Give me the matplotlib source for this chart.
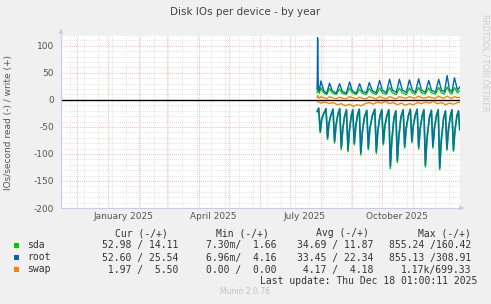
import matplotlib
matplotlib.use("Agg")
import matplotlib.pyplot as plt
from matplotlib.patches import Rectangle
from datetime import datetime, timedelta

# data begins end of July 2025, offsets in days
start = datetime(2025, 7, 28, 12)

# write side (+), sampled at peaks / troughs
w_days = [0, 0.4, 1, 2, 3.7, 6.5, 9.5, 12.3, 15, 19, 22.3, 25, 29, 32.3, 35, 39,
          42.3, 45, 49, 52, 55, 59, 62.3, 65, 69, 72.3, 75, 79, 82, 85, 89, 92,
          95, 98, 101.3, 104, 108, 111.3, 114, 118, 121.3, 124, 127, 129.7, 132,
          134.5, 137, 140, 142.5]
root_write = [20, 115, 28, 16, 35, 17, 12, 31, 17, 12, 30, 16, 12, 33, 17, 12,
              30, 16, 13, 32, 17, 13, 36, 18, 13, 38, 18, 14, 38, 18, 14, 37,
              18, 14, 39, 18, 14, 36, 18, 14, 38, 18, 15, 45, 19, 15, 41, 18, 24]
sda_write = [14, 39, 20, 12, 22, 13, 10, 21, 13, 10, 20, 12, 10, 22, 13, 10,
             20, 12, 10, 21, 13, 10, 22, 13, 10, 23, 13, 10, 22, 13, 10, 22,
             13, 11, 23, 13, 11, 22, 13, 11, 23, 13, 11, 24, 14, 11, 23, 13, 17]
swap_write = [4, 8, 6, 3, 6, 4, 2, 6, 4, 2, 5, 3, 2, 6, 4, 2,
              5, 3, 2, 6, 4, 2, 6, 4, 2, 6, 4, 2, 6, 4, 3, 6,
              4, 3, 7, 4, 3, 6, 4, 3, 7, 4, 3, 7, 4, 3, 6, 4, 5]

# read side (-), weekly dips
r_days = [0, 1.5,
          3, 4.5, 6.3, 8.8, 10.3, 11.8, 13.6, 15.8, 17.3, 18.8, 20.6, 22.5,
          24, 25.5, 27.3, 29.2, 30.7, 32.2, 34, 35.5, 37, 38.5, 40.3, 42,
          43.5, 45, 47.2, 49.5, 51, 52.5, 55, 57.5, 59, 60.5, 62.6, 64.5,
          66, 67.5, 69.6, 71.5, 73, 74.5, 76.6, 78.5, 80, 81.5, 83.6, 85.8,
          87.3, 88.8, 91, 93, 94.5, 96, 98, 99.8, 101.3, 102.8, 104.8, 106.5,
          108, 109.5, 112, 114, 115.5, 117, 119, 120.8, 122.3, 123.8, 126.2, 128,
          129.5, 131, 133, 134.5, 136, 137.5, 139.6, 141,
          142.3, 143]
root_read = [-21, -15,
             -58, -35, -26, -16, -70, -42, -28, -17, -76, -46, -27, -16,
             -88, -53, -30, -18, -92, -55, -29, -18, -80, -48, -27, -17,
             -98, -59, -31, -19, -89, -53, -29, -17, -95, -57, -30, -18,
             -80, -48, -28, -18, -122, -73, -33, -20, -112, -67, -31, -18,
             -86, -52, -29, -17, -76, -46, -27, -17, -87, -52, -29, -18,
             -120, -72, -32, -19, -86, -52, -29, -18, -125, -75, -33, -20,
             -90, -54, -29, -18, -92, -55, -28, -20,
             -55, -40]
sda_read = [-22, -16,
            -61, -37, -27, -17, -73, -44, -29, -18, -80, -48, -28, -17,
            -92, -55, -31, -19, -96, -57, -30, -19, -83, -50, -28, -18,
            -102, -61, -32, -20, -92, -55, -30, -18, -99, -59, -31, -19,
            -83, -50, -29, -19, -127, -76, -34, -21, -116, -70, -32, -19,
            -89, -54, -30, -18, -79, -48, -28, -18, -91, -54, -30, -19,
            -124, -74, -33, -20, -89, -54, -30, -19, -129, -77, -34, -21,
            -93, -56, -30, -19, -95, -57, -29, -21,
            -56, -41]

s_days = [0, 4, 8, 12, 16, 20, 24, 28, 32, 36, 40, 44, 48, 52, 56, 60, 64, 68,
          72, 76, 80, 84, 88, 92, 96, 100, 104, 108, 112, 116, 120, 124, 128,
          132, 136, 140, 143]
swap_read = [-3, -6, -4, -7, -5, -9, -7, -11, -8, -12, -9, -11, -7, -5, -8, -4,
             -6, -3, -7, -5, -9, -6, -10, -7, -9, -5, -7, -4, -6, -3, -7, -5,
             -9, -6, -8, -5, -4]

names = ["sda", "root", "swap"]
colors = ["#00cc00", "#0066b3", "#ff8000"]
cur = ["52.98 / 14.11", "52.60 / 25.54", " 1.97 /  5.50"]
mins = ["7.30m/  1.66", "6.96m/  4.16", "0.00 /  0.00"]
avgs = ["34.69 / 11.87", "33.45 / 22.34", " 4.17 /  4.18"]
maxs = ["855.24 /160.42", "855.13 /308.91", "1.17k/699.33"]

W, H = 491, 304


def to_dates(days):
    return [start + timedelta(days=d) for d in days]


fig = plt.figure(figsize=(W / 100, H / 100), dpi=100, facecolor="#f0f0f0")
ax = fig.add_axes([61 / W, 1 - 208 / H, 399 / W, 173 / H])
ax.set_facecolor("white")

x0 = datetime(2024, 11, 14, 17)
x1 = datetime(2025, 12, 18, 1)
ax.set_xlim(x0, x1)
ax.set_ylim(-200, 120)

# grid
for v in range(-200, 121, 10):
    if v % 50:
        ax.axhline(v, color="#d8d8d8", lw=0.6, ls=(0, (1, 1.5)), zorder=0)
d = datetime(2024, 11, 24)
while d < x1:
    ax.axvline(d, color="#d8d8d8", lw=0.6, ls=(0, (1, 1.5)), zorder=0)
    d += timedelta(days=14)
for v in range(-200, 121, 50):
    ax.axhline(v, color="#f2a0a0", lw=0.6, ls=(0, (1, 1.5)), zorder=0.5)
for m in range(0, 13):
    yy, mm = 2024 + (10 + m) // 12, (10 + m) % 12 + 1
    ax.axvline(datetime(yy, mm, 1), color="#f2a0a0", lw=0.6, ls=(0, (1, 1.5)), zorder=0.5)

ax.axhline(0, color="black", lw=1.0, zorder=1)

ax.plot(to_dates(r_days), sda_read, color=colors[0], lw=1.1, zorder=2)
ax.plot(to_dates(r_days), root_read, color=colors[1], lw=1.2, alpha=0.85, zorder=3)
ax.plot(to_dates(s_days), swap_read, color=colors[2], lw=1.0, zorder=4)
ax.plot(to_dates(w_days), sda_write, color=colors[0], lw=1.0, zorder=3)
ax.plot(to_dates(w_days), root_write, color=colors[1], lw=1.0, zorder=4)
ax.plot(to_dates(w_days), swap_write, color=colors[2], lw=1.0, zorder=5)

for s in ["top", "right"]:
    ax.spines[s].set_visible(False)
for s in ["left", "bottom"]:
    ax.spines[s].set_color("#c8c8f0")
    ax.spines[s].set_linewidth(0.8)

ax.set_yticks(range(-200, 101, 50))
ax.set_yticklabels([str(v) for v in range(-200, 101, 50)])
ax.set_xticks([datetime(2025, 1, 16), datetime(2025, 4, 16),
               datetime(2025, 7, 16), datetime(2025, 10, 16)])
ax.set_xticklabels(["January 2025", "April 2025", "July 2025", "October 2025"])
ax.tick_params(length=0, labelsize=6.5, colors="#555555", pad=5)
ax.tick_params(axis="x", pad=3)

ax.annotate("", xy=(61 / W, 1 - 26 / H), xytext=(61 / W, 1 - 36 / H),
            xycoords="figure fraction",
            arrowprops=dict(arrowstyle="-|>", color="#c8c8f0", lw=0.8, mutation_scale=6))
ax.annotate("", xy=(467 / W, 1 - 208 / H), xytext=(458 / W, 1 - 208 / H),
            xycoords="figure fraction",
            arrowprops=dict(arrowstyle="-|>", color="#c8c8f0", lw=0.8, mutation_scale=6))

fig.text(245 / W, 1 - 12 / H, "Disk IOs per device - by year", ha="center", va="center",
         fontsize=7.5, color="#444444")
fig.text(9 / W, 1 - 122 / H, "IOs/second read (-) / write (+)", rotation=90,
         ha="center", va="center", fontsize=6.5, color="#555555")
fig.text(485 / W, 1 - 14 / H, "RRDTOOL / TOBI OETIKER", rotation=270,
         ha="center", va="top", fontsize=5.5, color="#cccccc")

mono = dict(family="DejaVu Sans Mono", fontsize=7, color="#333333", va="baseline")
base = [236, 248, 260.5, 272.5]
fig.text(168 / W, 1 - base[0] / H, "Cur (-/+)", ha="right", **mono)
fig.text(269 / W, 1 - base[0] / H, "Min (-/+)", ha="right", **mono)
fig.text(369 / W, 1 - base[0] / H, "Avg (-/+)", ha="right", **mono)
fig.text(471 / W, 1 - base[0] / H, "Max (-/+)", ha="right", **mono)
for i in range(3):
    yb = 1 - base[i + 1] / H
    fig.patches.append(Rectangle((14 / W, yb + 0.5 / H), 5 / W, 5 / H,
                                 transform=fig.transFigure,
                                 facecolor=colors[i], edgecolor="none"))
    fig.text(27 / W, yb, names[i], ha="left", **mono)
    fig.text(178 / W, yb, cur[i], ha="right", **mono)
    fig.text(276 / W, yb, mins[i], ha="right", **mono)
    fig.text(373 / W, yb, avgs[i], ha="right", **mono)
    fig.text(471 / W, yb, maxs[i], ha="right", **mono)
fig.text(477 / W, 1 - 284.3 / H, "Last update: Thu Dec 18 01:00:11 2025", ha="right", **mono)
fig.text(245 / W, 1 - 292 / H, "Munin 2.0.76", ha="center", va="center",
         fontsize=5.5, color="#c0c0c0")

fig.savefig("out.png", dpi=100, facecolor=fig.get_facecolor())
